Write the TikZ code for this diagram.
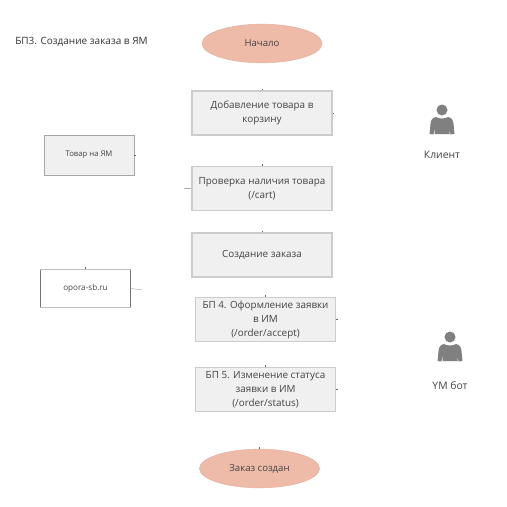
\documentclass[tikz,border=0pt]{standalone}
\usepackage{fontspec}
\setmainfont{Open Sans}
\usetikzlibrary{shapes.geometric}
\definecolor{boxfill}{HTML}{F0F0F0}
\definecolor{boxline}{HTML}{CCCCCC}
\definecolor{ovalfill}{HTML}{EFBBA9}
\definecolor{ovalline}{HTML}{E3B3A2}
\definecolor{txtgray}{HTML}{444444}
\definecolor{persongray}{HTML}{808080}
\tikzset{
  stepbox/.style={draw=boxline,line width=0.8pt,fill=boxfill,text=txtgray,align=center,font=\fontsize{7.4}{10.5}\selectfont,inner sep=0pt},
  oval/.style={ellipse,draw=ovalline,fill=ovalfill,text=txtgray,font=\fontsize{7.2}{11}\selectfont,minimum width=90pt,minimum height=29pt,inner sep=0pt},
  lbl/.style={text=txtgray,font=\fontsize{7.8}{9}\selectfont,inner sep=0pt},
  stub/.style={draw=black!60,line width=0.4pt},
}
\newcommand{\personicon}[2]{%
  \fill[persongray] (#1,#2-23) circle (5.5);
  \fill[persongray] (#1-6,#2-16) .. controls (#1-10,#2-15) and (#1-11,#2-13) .. (#1-11.5,#2-9)
    -- (#1-12.5,#2+1) -- (#1-8.5,#2+1.5) -- (#1-7.5,#2-5) -- (#1-7.5,#2+1) -- (#1+7.5,#2+1)
    -- (#1+7.5,#2-5) -- (#1+8.5,#2+1.5) -- (#1+12.5,#2+1) -- (#1+11.5,#2-9)
    .. controls (#1+11,#2-13) and (#1+10,#2-15) .. (#1+6,#2-16)
    .. controls (#1+3,#2-14) and (#1-3,#2-14) .. (#1-6,#2-16) -- cycle;
}
\begin{document}
\begin{tikzpicture}[x=0.75pt,y=-0.75pt]
  \useasboundingbox (0,0) rectangle (507,507);
  \node[lbl,font=\fontsize{7.5}{9}\selectfont,text=black!80,anchor=west] (title) at (15,42) {БП3. Создание заказа в ЯМ};
  % main column
  \node[oval] (start) at (262,43.5) {Начало};
  \node[stepbox,minimum width=105pt,minimum height=33pt] (add) at (262,113) {Добавление товара в\\корзину};
  \node[stepbox,minimum width=105pt,minimum height=33pt] (check) at (262,188.5) {Проверка наличия товара\\(/cart)};
  \node[stepbox,minimum width=105pt,minimum height=33pt] (create) at (262,255) {Создание заказа};
  \node[stepbox,minimum width=105pt,minimum height=33pt] (accept) at (265.5,319.5) {БП 4. Оформление заявки\\в ИМ\\(/order/accept)};
  \node[stepbox,minimum width=105pt,minimum height=33pt] (status) at (265.5,389.5) {БП 5. Изменение статуса\\заявки в ИМ\\(/order/status)};
  \node[oval] (finish) at (259.5,468.5) {Заказ создан};
  % left systems
  \node[stepbox,line width=0.6pt,draw=black!35,minimum width=67.5pt,minimum height=30pt,font=\fontsize{5.8}{7}\selectfont] (shop) at (89,155) {Товар на ЯМ};
  \node[minimum width=67.5pt,minimum height=28.5pt,inner sep=0pt,text=txtgray,font=\fontsize{6.1}{7}\selectfont] (opora) at (85.5,288.5) {opora-sb.ru};
  \draw[black!55,line width=0.5pt] (opora.north west) -- (opora.south west) (opora.north east) -- (opora.south east);
  \draw[black!25,line width=0.5pt] (opora.north west) -- (opora.north east) (opora.south west) -- (opora.south east);
  % actors
  \personicon{442}{133}
  \node[lbl] (client) at (442,155) {Клиент};
  \personicon{450}{360}
  \node[lbl] (bot) at (450,386) {YM бот};
  % leftovers of the connectors
  \draw[stub] (add.north) -- ++(0,-1.5);
  \draw[stub] (check.north) -- ++(0,-1.5);
  \draw[stub] (create.north) -- ++(0,-1.5);
  \draw[stub] (accept.north) -- ++(0,-1.5);
  \draw[stub] (status.north) -- ++(0,-1.5);
  \draw[stub] (finish.north) -- ++(0,-1.5);
  \draw[stub] (add.east) -- ++(1.5,0);
  \draw[stub] (accept.east) -- ++(1.5,0);
  \draw[stub] (status.east) -- ++(1.5,0);
  \draw[stub] (opora.north) -- ++(0,-2);
  \draw[stub] (shop.east) -- ++(1.5,0);
  \draw[stub,black!30] (check.west) -- ++(-7,0);
  \draw[stub,black!30] (opora.east) -- ++(12,1.5);
\end{tikzpicture}
\end{document}
